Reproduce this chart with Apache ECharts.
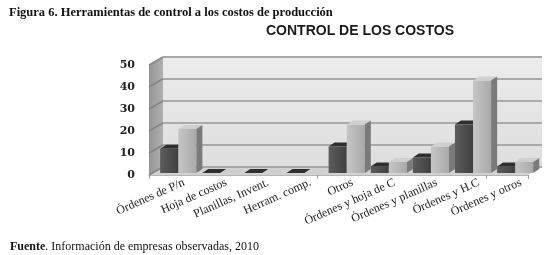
<!DOCTYPE html>
<html>
<head>
<meta charset="utf-8">
<script src="https://cdn.jsdelivr.net/npm/echarts@6/dist/echarts.min.js"></script>
<style>
  html, body { margin: 0; padding: 0; background: #fff; }
  #chart { width: 550px; height: 255px; }
</style>
</head>
<body>
<div id="chart"></div>
<script>
// categorias y valores
const categorias = ["Órdenes de P/n", "Hoja de costos", "Planillas, Invent.", "Herram. comp.", "Otros",
  "Órdenes y hoja de C", "Órdenes y planillas", "Órdenes y H.C", "Órdenes y otros"];
const serieOscura = [11, 0, 0, 0, 12, 3, 7, 22, 3];
const serieClara = [20, 0, 0, 0, 22, 5, 12, 42, 5];
const ticksY = [0, 10, 20, 30, 40, 50];

const chart = echarts.init(document.getElementById("chart"));

// profundidad de la caja 3D
const DX = 14, DY = -8;

function paredes(params, api) {
  const cs = params.coordSys;
  const x = cs.x, y = cs.y, w = cs.width, h = cs.height;
  const hijos = [
    { type: "rect", shape: { x: x + DX, y: y + DY, width: w, height: h },
      style: { fill: new echarts.graphic.LinearGradient(0, 0, 0, 1, [
        { offset: 0, color: "#ececec" }, { offset: 1, color: "#dedede" }]) } },
    { type: "polygon", shape: { points: [[x, y], [x + DX, y + DY], [x + DX, y + h + DY], [x, y + h]] },
      style: { fill: new echarts.graphic.LinearGradient(0, 0, 1, 0, [
        { offset: 0, color: "#969696" }, { offset: 1, color: "#b0b0b0" }]) } },
    { type: "polygon", shape: { points: [[x, y + h], [x + DX, y + h + DY], [x + w + DX, y + h + DY], [x + w, y + h]] },
      style: { fill: "#d2d2d2" } },
    { type: "line", shape: { x1: x + DX, y1: y + DY, x2: x + w + DX, y2: y + DY },
      style: { stroke: "#9a9a9a", lineWidth: 2 } }
  ];
  ticksY.forEach(function (v) {
    const py = api.coord([0, v])[1];
    hijos.push({ type: "line", shape: { x1: x + DX, y1: py + DY, x2: x + w + DX, y2: py + DY },
      style: { stroke: "#a9a9a9", lineWidth: 2 } });
    hijos.push({ type: "line", shape: { x1: x, y1: py, x2: x + DX, y2: py + DY },
      style: { stroke: "#858585", lineWidth: 1.5 } });
  });
  return { type: "group", children: hijos };
}

function barra3d(desplaz, colores) {
  return function (params, api) {
    const c = api.coord([api.value(0), api.value(1)]);
    const base = api.coord([api.value(0), 0]);
    const banda = api.size([1, 0])[0];
    const w = banda * 0.43;
    const x = c[0] + desplaz * banda + 4;
    const top = c[1] - 2, bot = base[1] - 2;
    const dx = 6, dy = -4;
    return {
      type: "group",
      children: [
        { type: "rect", shape: { x: x, y: top, width: w, height: bot - top },
          style: { fill: new echarts.graphic.LinearGradient(0, 0, 1, 0, [
            { offset: 0, color: colores[0] }, { offset: 1, color: colores[1] }]) } },
        { type: "polygon", shape: { points: [[x, top], [x + dx, top + dy], [x + w + dx, top + dy], [x + w, top]] },
          style: { fill: colores[2] } },
        { type: "polygon", shape: { points: [[x + w, top], [x + w + dx, top + dy], [x + w + dx, bot + dy], [x + w, bot]] },
          style: { fill: colores[3] } }
      ]
    };
  };
}

const option = {
  animation: false,
  title: [
    { text: "Figura 6. Herramientas de control a los costos de producción", left: 4, top: 1,
      textStyle: { fontFamily: "Liberation Serif", fontSize: 12.5, fontWeight: "bold", color: "#111" } },
    { text: "CONTROL DE LOS COSTOS", left: 261, top: 19,
      textStyle: { fontFamily: "Liberation Sans", fontSize: 14, fontWeight: "bold", color: "#1a1a1a" } },
    { text: "{b|Fuente}. Información de empresas observadas, 2010", left: 5, top: 236,
      textStyle: { fontFamily: "Liberation Serif", fontSize: 12, fontWeight: "normal", color: "#111",
        rich: { b: { fontFamily: "Liberation Serif", fontSize: 12, fontWeight: "bold", color: "#111" } } } }
  ],
  grid: [
    { left: 149, right: 22, top: 65, bottom: 80 },
    { left: 163, right: 8, top: 65, bottom: 80 }
  ],
  xAxis: [
    {
      type: "category",
      gridIndex: 0,
      data: categorias,
      axisLine: { show: true, lineStyle: { color: "#b5b5b5" } },
      axisTick: { show: true, length: 4, lineStyle: { color: "#9a9a9a" } },
      axisLabel: { show: false }
    },
    {
      // solo etiquetas, desplazadas como en el grafico 3D
      type: "category",
      gridIndex: 1,
      data: categorias,
      axisLine: { show: false },
      axisTick: { show: false },
      axisLabel: { interval: 0, rotate: 24, margin: 7, fontFamily: "Liberation Serif", fontSize: 12, color: "#222" }
    }
  ],
  yAxis: [
    {
      type: "value",
      gridIndex: 0,
      min: 0, max: 50, interval: 10,
      axisLine: { show: false },
      axisTick: { show: false },
      splitLine: { show: false },
      axisLabel: { margin: 14, fontFamily: "DejaVu Serif", fontWeight: "bold", fontSize: 11, color: "#222" }
    },
    { type: "value", gridIndex: 1, min: 0, max: 50, show: false, splitLine: { show: false } }
  ],
  series: [
    { type: "custom", silent: true, z: 1, renderItem: paredes, data: [[0, 0]] },
    { type: "custom", z: 3, renderItem: barra3d(-0.33, ["#5c5c5c", "#404040", "#2f2f2f", "#2a2a2a"]),
      data: serieOscura.map(function (v, i) { return [i, v]; }) },
    { type: "custom", z: 3, renderItem: barra3d(0.1, ["#c6c6c6", "#a9a9a9", "#cfcfcf", "#7a7a7a"]),
      data: serieClara.map(function (v, i) { return [i, v]; }) }
  ]
};
chart.setOption(option);
</script>
</body>
</html>
